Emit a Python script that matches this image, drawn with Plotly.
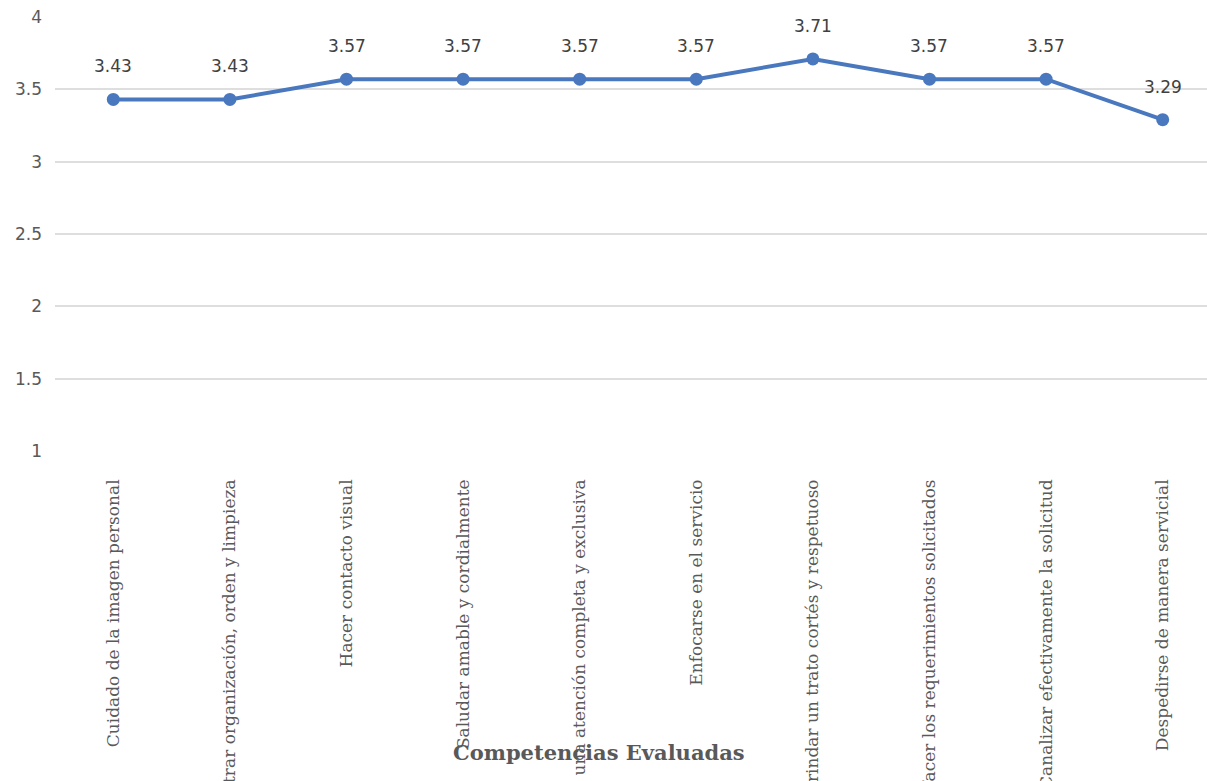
import plotly.graph_objects as go

categories = [
    "Cuidado de la imagen personal",
    "Mostrar organización, orden y limpieza",
    "Hacer contacto visual",
    "Saludar amable y cordialmente",
    "Brindar una atención completa y exclusiva",
    "Enfocarse en el servicio",
    "Brindar un trato cortés y respetuoso",
    "Satisfacer los requerimientos solicitados",
    "Canalizar efectivamente la solicitud",
    "Despedirse de manera servicial",
]
values = [3.43, 3.43, 3.57, 3.57, 3.57, 3.57, 3.71, 3.57, 3.57, 3.29]
y_ticks = [1, 1.5, 2, 2.5, 3, 3.5, 4]
x_title = "Competencias Evaluadas"

GRAY = "#595959"
BLUE = "#4a78bf"

fig = go.Figure()
fig.add_trace(go.Scatter(
    x=list(range(len(categories))), y=values, mode="lines+markers",
    line=dict(color=BLUE, width=4),
    marker=dict(color=BLUE, size=13),
    hoverinfo="skip", showlegend=False,
))
for i, v in enumerate(values):
    fig.add_annotation(x=i, y=v, text=f"{v:.2f}", showarrow=False, yshift=33,
                       font=dict(family="DejaVu Sans", size=17, color="#404040"))

fig.add_annotation(xref="paper", yref="paper", x=0.472, y=-0.695,
                   text="<b>" + x_title + "</b>",
                   showarrow=False, font=dict(family="DejaVu Serif", size=21, color=GRAY),
                   xanchor="center", yanchor="middle")

fig.update_layout(
    width=1207, height=781,
    margin=dict(l=55, r=0, t=17, b=330),
    plot_bgcolor="white", paper_bgcolor="white",
    xaxis=dict(
        tickmode="array", tickvals=list(range(len(categories))), ticktext=categories,
        tickangle=-90, range=[-0.5, 9.38], showgrid=False, zeroline=False,
        showline=False, ticks="", ticklabelstandoff=24, automargin=False,
        tickfont=dict(family="DejaVu Serif", size=17, color=GRAY),
    ),
    yaxis=dict(
        range=[1, 4], tickvals=y_ticks, ticktext=[f"{t:g}" for t in y_ticks],
        showgrid=True, gridcolor="#dedede", gridwidth=2, zeroline=False,
        showline=False, ticks="", ticklabelstandoff=12, automargin=False,
        tickfont=dict(family="DejaVu Sans", size=17, color=GRAY),
    ),
)
fig.write_html("out.html")
